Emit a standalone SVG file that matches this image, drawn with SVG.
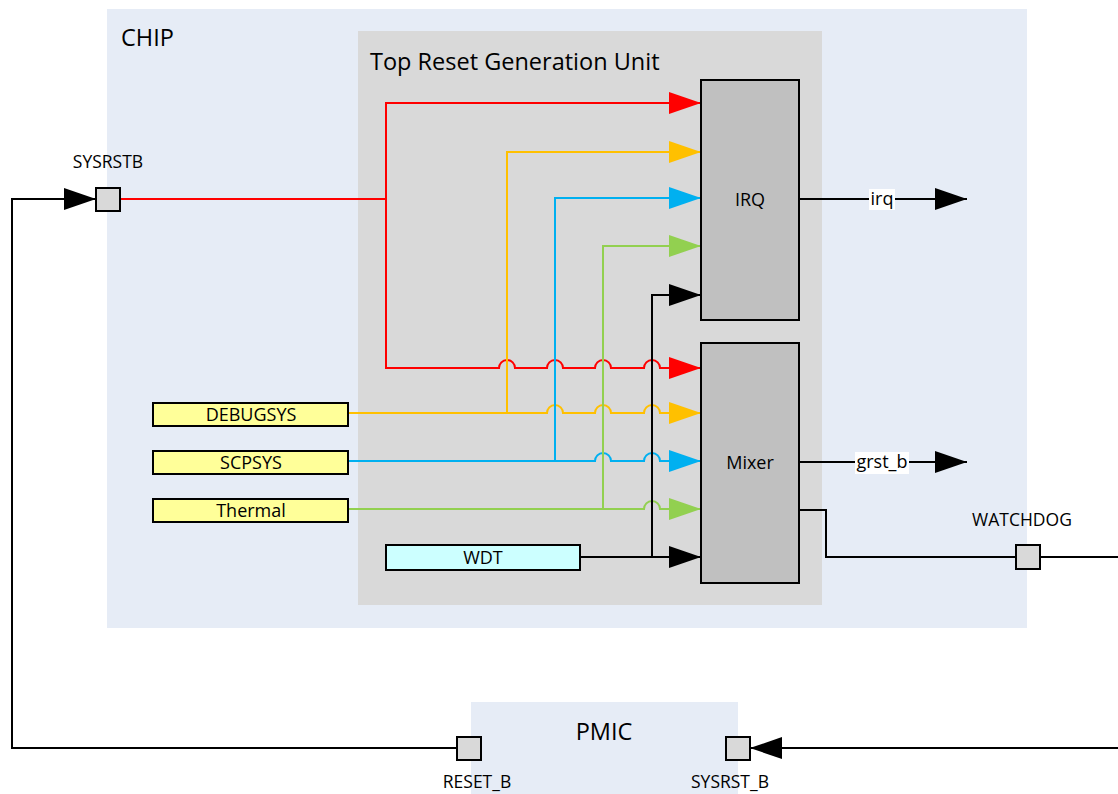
<svg xmlns="http://www.w3.org/2000/svg" width="1118" height="794" viewBox="0 0 1118 794">
<style>
text{font-family:"Open Sans","Noto Sans","Liberation Sans",sans-serif;fill:#000}
.area{fill:#e6ecf6;stroke:none}
.unit{fill:#d9d9d9;stroke:none}
.blk{fill:#c0c0c0;stroke:#000;stroke-width:2}
.in{fill:#ffff99;stroke:#000;stroke-width:2}
.wdt{fill:#ccffff;stroke:#000;stroke-width:2}
.pin{fill:#d9d9d9;stroke:#000;stroke-width:2}
.w{fill:none;stroke-width:2}
.r{stroke:#ff0000}.y{stroke:#ffc000}.b{stroke:#00b0f0}.g{stroke:#92d050}.k{stroke:#000}
.lbl{font-size:18px}
.big{font-size:23.5px}
.small{font-size:17.5px}
</style>
<defs>
<marker id="aR" viewBox="0 0 32 22" refX="32" refY="11" markerWidth="32" markerHeight="22" markerUnits="userSpaceOnUse" orient="auto"><path d="M0,0L32,11L0,22z" fill="#ff0000"/></marker>
<marker id="aY" viewBox="0 0 32 22" refX="32" refY="11" markerWidth="32" markerHeight="22" markerUnits="userSpaceOnUse" orient="auto"><path d="M0,0L32,11L0,22z" fill="#ffc000"/></marker>
<marker id="aB" viewBox="0 0 32 22" refX="32" refY="11" markerWidth="32" markerHeight="22" markerUnits="userSpaceOnUse" orient="auto"><path d="M0,0L32,11L0,22z" fill="#00b0f0"/></marker>
<marker id="aG" viewBox="0 0 32 22" refX="32" refY="11" markerWidth="32" markerHeight="22" markerUnits="userSpaceOnUse" orient="auto"><path d="M0,0L32,11L0,22z" fill="#92d050"/></marker>
<marker id="aK" viewBox="0 0 32 22" refX="32" refY="11" markerWidth="32" markerHeight="22" markerUnits="userSpaceOnUse" orient="auto"><path d="M0,0L32,11L0,22z" fill="#000"/></marker>
</defs>

<g id="chip"><rect class="area" x="107" y="9" width="920" height="619"/><text class="big" x="121" y="46">CHIP</text></g>
<g id="pmic"><rect class="area" x="471" y="702" width="267" height="92"/><text class="big" x="604" y="740" text-anchor="middle">PMIC</text></g>
<g id="trgu"><rect class="unit" x="358" y="31" width="464" height="574"/><text class="big" x="370" y="70">Top Reset Generation Unit</text></g>

<g id="connectors">
<path class="w r" d="M120,199H386"/>
<path class="w r" d="M386,199V103H701" marker-end="url(#aR)"/>
<path class="w r" d="M386,199V368H499A8,8 0 0 1 515,368H547A8,8 0 0 1 563,368H595A8,8 0 0 1 611,368H644A8,8 0 0 1 660,368H701" marker-end="url(#aR)"/>
<path class="w y" d="M507,413V152H701" marker-end="url(#aY)"/>
<path class="w y" d="M348,413H547A8,8 0 0 1 563,413H595A8,8 0 0 1 611,413H644A8,8 0 0 1 660,413H701" marker-end="url(#aY)"/>
<path class="w b" d="M555,461V198H701" marker-end="url(#aB)"/>
<path class="w b" d="M348,461H595A8,8 0 0 1 611,461H644A8,8 0 0 1 660,461H701" marker-end="url(#aB)"/>
<path class="w g" d="M603,509V246H701" marker-end="url(#aG)"/>
<path class="w g" d="M348,509H644A8,8 0 0 1 660,509H701" marker-end="url(#aG)"/>
<path class="w k" d="M652,557V295H701" marker-end="url(#aK)"/>
<path class="w k" d="M580,557H701" marker-end="url(#aK)"/>
<path class="w k" d="M799,199H967" marker-end="url(#aK)"/>
<path class="w k" d="M799,462H967" marker-end="url(#aK)"/>
<path class="w k" d="M799,510H826V557H1016"/>
<path class="w k" d="M1040,557H1122V748H750" marker-end="url(#aK)"/>
<path class="w k" d="M457,748H12V199H96" marker-end="url(#aK)"/>
<rect x="869" y="189" width="26" height="21" fill="#fff"/>
<text class="lbl" x="882" y="205" text-anchor="middle">irq</text>
<rect x="855" y="452" width="54" height="22" fill="#fff"/>
<text class="lbl" x="882" y="468" text-anchor="middle">grst_b</text>
</g>

<g id="irq"><rect class="blk" x="701" y="80" width="98" height="240"/><text class="lbl" x="750" y="206" text-anchor="middle">IRQ</text></g>
<g id="mixer"><rect class="blk" x="701" y="343" width="98" height="240"/><text class="lbl" x="750" y="469" text-anchor="middle">Mixer</text></g>
<g id="debugsys"><rect class="in" x="153" y="403" width="195" height="23"/><text class="lbl" x="251" y="421" text-anchor="middle">DEBUGSYS</text></g>
<g id="scpsys"><rect class="in" x="153" y="451" width="195" height="23"/><text class="lbl" x="251" y="469" text-anchor="middle">SCPSYS</text></g>
<g id="thermal"><rect class="in" x="153" y="499" width="195" height="23"/><text class="lbl" x="251" y="517" text-anchor="middle">Thermal</text></g>
<g id="wdt"><rect class="wdt" x="386" y="545" width="194" height="25"/><text class="lbl" x="483" y="564" text-anchor="middle">WDT</text></g>

<g id="pin-sysrstb"><rect class="pin" x="96" y="188" width="24" height="23"/><text class="small" x="108" y="168" text-anchor="middle">SYSRSTB</text></g>
<g id="pin-watchdog"><rect class="pin" x="1016" y="545" width="24" height="24"/><text class="small" x="1022" y="526" text-anchor="middle">WATCHDOG</text></g>
<g id="pin-reset_b"><rect class="pin" x="457" y="737" width="24" height="23"/><text class="small" x="477" y="788" text-anchor="middle">RESET_B</text></g>
<g id="pin-sysrst_b"><rect class="pin" x="726" y="737" width="24" height="23"/><text class="small" x="730" y="788" text-anchor="middle">SYSRST_B</text></g>
</svg>
